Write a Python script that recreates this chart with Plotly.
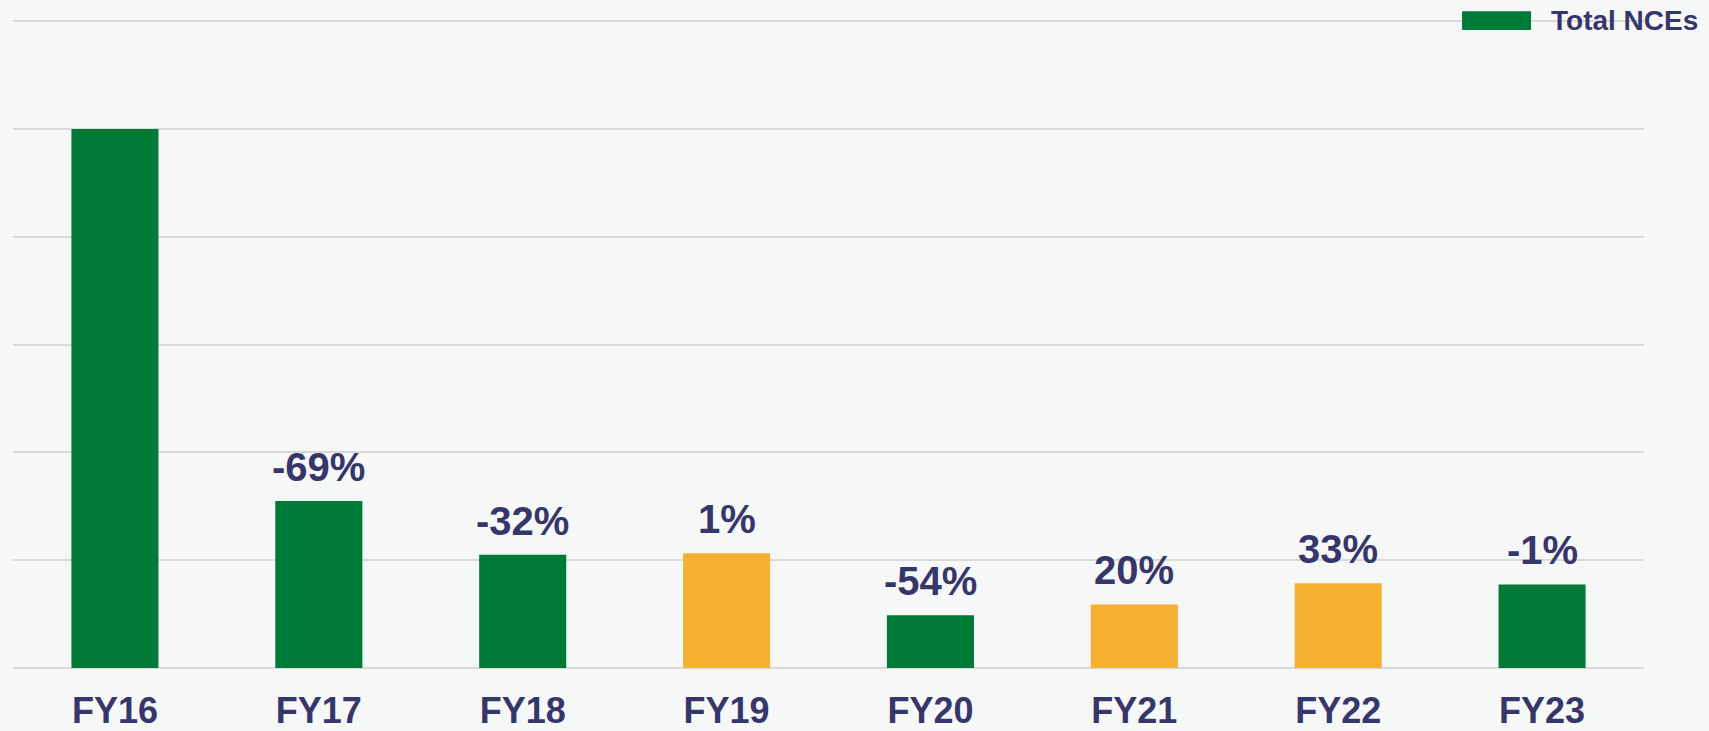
import plotly.graph_objects as go

categories = ["FY16", "FY17", "FY18", "FY19", "FY20", "FY21", "FY22", "FY23"]
values = [100, 31, 21, 21.3, 9.8, 11.8, 15.7, 15.5]
growth_labels = ["", "-69%", "-32%", "1%", "-54%", "20%", "33%", "-1%"]
bar_colors = ["#007A37", "#007A37", "#007A37", "#F5B031", "#007A37", "#F5B031", "#F5B031", "#007A37"]
legend_name = "Total NCEs"

TEXT = "#37366A"
FONT = "Liberation Sans, Arial, sans-serif"

W, H = 1709, 731
ML, MR, MT, MB = 12.5, 65, 19.7, 63.3
PW, PH = W - ML - MR, H - MT - MB

fig = go.Figure()
fig.add_trace(go.Bar(
    x=categories, y=values, marker=dict(color=bar_colors, line=dict(width=0)),
    name=legend_name, showlegend=False,
))

for c, v, t in zip(categories, values, growth_labels):
    if t:
        fig.add_annotation(x=c, y=v, text="<b>%s</b>" % t, showarrow=False,
                           yanchor="bottom", yshift=10,
                           font=dict(size=40, color=TEXT, family=FONT))

# legend drawn manually
fig.add_shape(type="rect", xref="paper", yref="paper",
              x0=(1462 - ML) / PW, x1=(1531 - ML) / PW,
              y0=1 - (29.7 - MT) / PH, y1=1 - (11 - MT) / PH,
              fillcolor="#007A37", line=dict(width=0))
fig.add_annotation(xref="paper", yref="paper", x=(1549 - ML) / PW, y=1 - (20.5 - MT) / PH,
                   xanchor="left", yanchor="middle", showarrow=False,
                   text="<b>%s</b>" % legend_name,
                   font=dict(size=28, color=TEXT, family=FONT))

fig.update_layout(
    width=W, height=H,
    margin=dict(l=ML, r=MR, t=MT, b=MB, autoexpand=False),
    paper_bgcolor="#F6F7F7", plot_bgcolor="#F6F7F7",
    bargap=0.573,
    font=dict(family=FONT, color=TEXT),
)
fig.update_xaxes(
    type="category", range=[-0.5, 7.5], automargin=False,
    showgrid=False, showline=False, zeroline=False,
    ticks="outside", ticklen=11, tickcolor="rgba(0,0,0,0)",
    tickfont=dict(size=36, color=TEXT, family=FONT),
    tickprefix="<b>", ticksuffix="</b>",
)
fig.update_yaxes(
    range=[0, 120.2], tickvals=[0, 20, 40, 60, 80, 100, 120], automargin=False,
    showticklabels=False, showgrid=True, gridcolor="#D9D9D9", gridwidth=2,
    zeroline=True, zerolinecolor="#D9D9D9", zerolinewidth=2, showline=False,
)

fig.write_html("out.html", config={"displayModeBar": False},
               post_script="document.body.style.margin='0px';")
